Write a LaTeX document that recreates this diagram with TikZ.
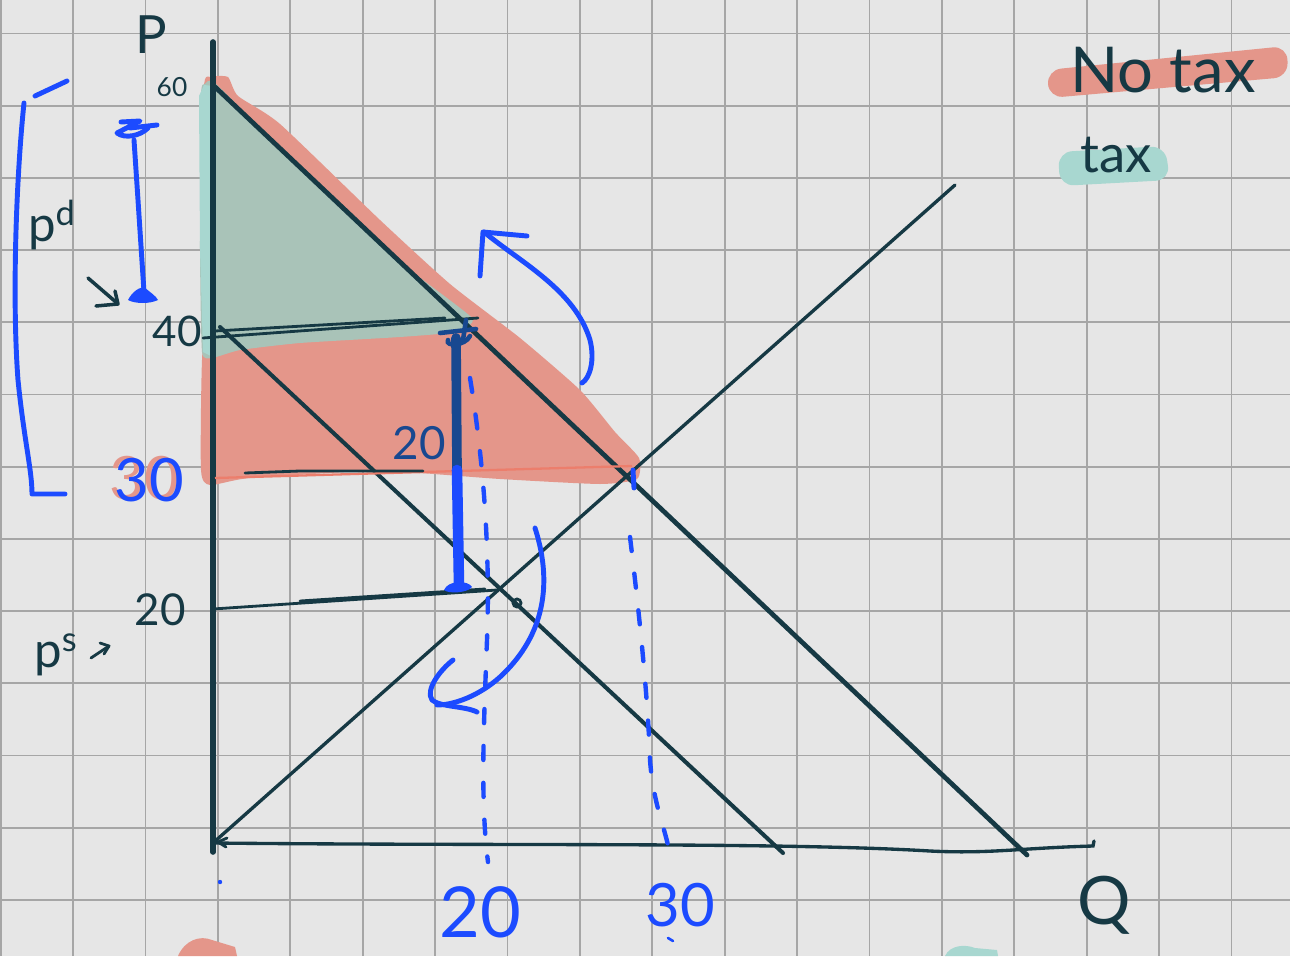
\documentclass[tikz,border=0pt]{standalone}
\usepackage{fontspec}
\setmainfont{Lato}
\definecolor{bg}{HTML}{E6E6E6}
\definecolor{gridc}{HTML}{A6A6A6}
\definecolor{ink}{HTML}{163944}
\definecolor{redhl}{HTML}{E4968A}
\definecolor{redline}{HTML}{EC7E6C}
\definecolor{tealred}{HTML}{A9C3B8}
\definecolor{tealhl}{HTML}{A8D7D0}
\definecolor{pen}{HTML}{1C4BFF}
\definecolor{pendark}{HTML}{184890}
\begin{document}
\begin{tikzpicture}[x=0.02cm,y=-0.02cm,
  gridline/.style={gridc, line width=1pt},
  axisline/.style={ink, line width=3.2pt, line cap=round},
  demand/.style={ink, line width=2.7pt, line cap=round},
  thin ink/.style={ink, line width=1.6pt, line cap=round, line join=round},
  penline/.style={pen, line width=2.8pt, line cap=round, line join=round},
  pendash/.style={pen, line width=2.5pt, line cap=round, dash pattern=on 8pt off 13pt},
  lbl/.style={inner sep=0pt, text=ink},
  bluelbl/.style={inner sep=0pt, text=pen}]
\fill[bg] (0,0) rectangle (1290,956);
\useasboundingbox (0,0) rectangle (1290,956);
% grid
\foreach \i in {0,...,17} \draw[gridline] ({0.7+72.4*\i},0) -- ({0.7+72.4*\i},956);
\foreach \j in {0,...,12} \draw[gridline] (0,{33.5+72.2*\j}) -- (1290,{33.5+72.2*\j});
% highlighted areas
\fill[redhl] plot[smooth cycle, tension=0.35] coordinates {(204,88) (212,77) (228,77) (238,96) (280,124) (380,220) (450,284) (520,338) (580,390) (615,432) (639,458) (637,479) (600,484) (500,479) (380,471) (250,478) (210,485) (201,470) (202,360) (210,250)};
\fill[tealred] plot[smooth cycle, tension=0.3] coordinates {(201,95) (205,84) (216,84) (300,168) (400,262) (472,318) (455,332) (400,337) (300,343) (240,350) (212,358) (202,352) (200,250)};
\fill[tealhl] (199,96) -- (204,85) -- (213,86) -- (213,357) -- (203,352) -- (200,250) -- cycle;
\fill[redhl] (178,956) .. controls (185,940) and (200,935) .. (212,940) -- (235,947) -- (237,956) -- cycle;
\fill[tealhl] (945,956) .. controls (950,945) and (965,944) .. (975,948) -- (997,950) -- (998,956) -- cycle;
% legend
\fill[redhl, rounded corners=8] (1047,70) -- (1287,46) -- (1288,77) -- (1049,98) -- cycle;
\fill[tealhl, rounded corners=8] (1058,152) -- (1165,146) -- (1170,180) -- (1060,186) -- cycle;
\node[lbl, font=\fontsize{36}{36}\selectfont] (notax) at (1163,70) {No tax};
\node[lbl, font=\fontsize{30}{30}\selectfont] (tax) at (1116,155) {tax};
% key points
\coordinate (O) at (213,843);
\coordinate (Ptop) at (213,42);
\coordinate (Pbot) at (213,852);
\coordinate (D1a) at (213,85);
\coordinate (D1b) at (1027,855);
\coordinate (D2a) at (220,327);
\coordinate (D2b) at (783,853);
\coordinate (Sb) at (955,185);
% axes
\draw[axisline] (Ptop) -- (Pbot);
\draw[ink, line width=1.9pt, line cap=round] (O) .. controls (500,846) and (780,842) .. (930,851) .. controls (990,854) and (1020,848) .. (1093,846) -- (1094,841);
\draw[thin ink] (227,838) -- (218,842) -- (226,847);
% curves
\draw[demand] (D1a) -- (D1b);
\draw[ink, line width=2.3pt, line cap=round] (D2a) -- (D2b);
\draw[ink, line width=1.9pt, line cap=round] (O) -- (Sb);
% price lines
\draw[thin ink] (203,338) -- (478,318);
\draw[thin ink] (215,331) -- (445,318);
\draw[redline, line width=1.3pt] (215,478) -- (632,466);
\draw[thin ink] (245,473) -- (300,471) -- (423,471);
\draw[thin ink] (213,609) -- (497,590);
\draw[thin ink] (300,601) -- (485,589);
\draw[ink, line width=1.6pt] (517,603) circle (4);
% dashed quantity lines
\draw[pendash] (470,378) .. controls (485,470) and (490,560) .. (487,640) .. controls (484,720) and (480,800) .. (488,862);
\draw[penline] (633,470) -- (634,488);
\draw[pendash] (630,537) .. controls (640,620) and (648,700) .. (650,760) .. controls (653,800) and (662,820) .. (668,845);
% thick tax arrow
\draw[pendark, line width=5.5pt, line cap=round] (456,338) -- (457,470);
\draw[pen, line width=6pt, line cap=round] (457,470) -- (459,586);
\fill[pen] (444,590) .. controls (448,580) and (468,580) .. (472,587) .. controls (468,593) and (448,594) .. (444,590) -- cycle;
\draw[pendark, line width=2.6pt, line cap=round] (440,333) -- (476,329);
\draw[pendark, line width=2.6pt, line cap=round] (448,340) .. controls (445,347) and (465,346) .. (470,336);
\draw[pendark, line width=2.6pt, line cap=round] (466,320) -- (463,340);
\node[inner sep=0pt, text=pendark, font=\fontsize{26}{26}\selectfont] (tax20) at (419,443) {20};
% curved arrows
\draw[penline] (484,232) .. controls (520,262) and (575,290) .. (590,340) .. controls (595,360) and (590,378) .. (582,383);
\draw[penline] (480,276) -- (483,232) -- (527,236);
\draw[penline] (535,528) .. controls (555,590) and (540,640) .. (500,677) .. controls (480,695) and (455,705) .. (437,705);
\draw[penline] (453,660) .. controls (440,670) and (425,690) .. (432,700) .. controls (440,707) and (465,706) .. (477,712);
% left bracket and bar
\draw[penline] (67,81) -- (35,96);
\draw[penline] (24,103) .. controls (16,180) and (12,300) .. (18,380) .. controls (24,440) and (32,470) .. (32,494) -- (65,494);
\draw[penline] (134,140) -- (138,200) -- (144,292);
\draw[penline] (121,122) -- (140,121) -- (117,133) .. controls (125,139) and (140,136) .. (148,128);
\draw[penline] (130,128) -- (157,125);
\fill[pen] (128,300) .. controls (132,292) and (140,286) .. (145,288) .. controls (150,292) and (156,296) .. (158,300) .. controls (150,304) and (135,304) .. (128,300) -- cycle;
\draw[thin ink, line width=2pt] (88,278) -- (117,303);
\draw[thin ink, line width=2pt] (96,306) -- (118,304) -- (115,291);
% axis labels
\node[lbl, font=\fontsize{30}{30}\selectfont] (P) at (151,35) {P};
\node[lbl, font=\fontsize{15}{15}\selectfont] (p60) at (172,87) {60};
\node[lbl, font=\fontsize{24}{24}\selectfont] (p40) at (177,331) {40};
\node[inner sep=0pt, text=redhl, font=\fontsize{34}{34}\selectfont] (p30r) at (144,478) {30};
\node[bluelbl, font=\fontsize{34}{34}\selectfont] (p30) at (149,480) {30};
\node[lbl, font=\fontsize{25}{25}\selectfont] (p20) at (160,610) {20};
\node[lbl, font=\fontsize{28}{28}\selectfont] (pd) at (52,225) {p\textsuperscript{d}};
\node[lbl, font=\fontsize{28}{28}\selectfont] (ps) at (56,655) {p\textsuperscript{s}};
\draw[thin ink] (91,658) -- (109,646);
\draw[thin ink] (100,643) -- (109,646) -- (104,654);
\node[lbl, font=\fontsize{38}{38}\selectfont] (Q) at (1104,905) {Q};
\node[bluelbl, font=\fontsize{40}{40}\selectfont] (q20) at (480,912) {20};
\node[bluelbl, font=\fontsize{34}{34}\selectfont] (q30) at (680,905) {30};
\fill[pen] (220,882) circle (2.2);
\draw[penline, line width=1.5pt] (668,938) -- (673,941);
\end{tikzpicture}
\end{document}
